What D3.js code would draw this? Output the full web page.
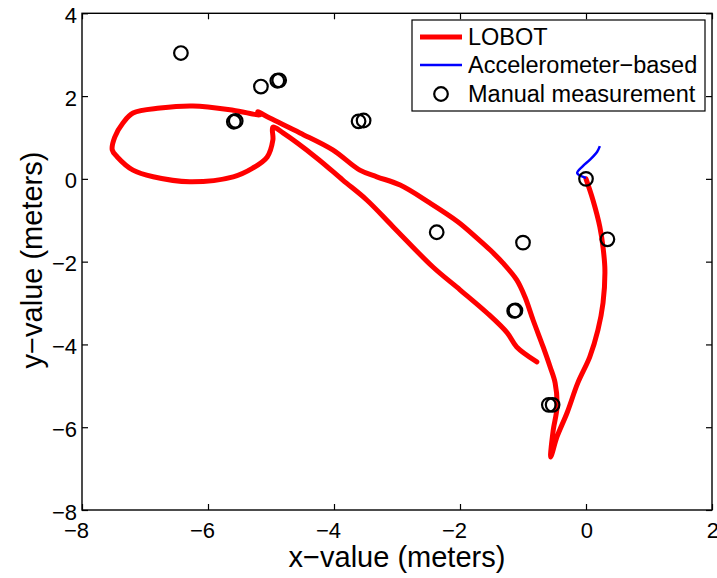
<!DOCTYPE html>
<meta charset="utf-8">
<script src="https://cdn.jsdelivr.net/npm/d3@7"></script>
<style>
    body { margin: 0; background: #fff; }
    text { font-family: "Liberation Sans", Arial, sans-serif; fill: #000; }
    .axis path { display: none; }
    .axis line { stroke: #000; stroke-width: 1.2; }
    .axis text { font-size: 22px; }
</style>
<body>
<script>

    // LOBOT path (meters), traced in drawing order
    var lobotX = [0.0, 0.11, 0.22, 0.27, 0.30, 0.27, 0.19, 0.06, -0.13, -0.30, -0.46, -0.56,
                  -0.52, -0.46, -0.49, -0.57, -0.68, -0.84, -0.97, -1.10, -1.32, -1.52, -1.73, -2.03, -2.48, -2.95,
                  -3.32, -3.59, -4.02, -4.54, -5.02, -5.21, -5.17,
                  -5.60, -6.24, -6.76, -7.19, -7.35, -7.48, -7.52, -7.44, -7.19, -6.87, -6.29, -5.60, -5.29, -5.06, -4.97, -4.97,
                  -4.81, -4.27, -3.86, -3.48, -3.06, -2.43, -2.0, -1.57, -1.25, -1.10, -0.78]
    var lobotY = [0.0, -0.51, -1.16, -1.65, -2.2, -3.0, -3.65, -4.30, -4.93, -5.65, -6.23, -6.72,
                  -6.07, -5.51, -4.93, -4.54, -4.06, -3.41, -2.85, -2.44, -2.03, -1.72, -1.43, -1.04, -0.58, -0.15,
                  0.05, 0.21, 0.70, 1.11, 1.47, 1.62, 1.55,
                  1.66, 1.76, 1.71, 1.59, 1.35, 1.01, 0.70, 0.53, 0.21, 0.05, -0.07, 0.05, 0.26, 0.53, 0.94, 1.25,
                  1.11, 0.50, -0.03, -0.51, -1.16, -2.13, -2.68, -3.24, -3.72, -4.06, -4.42]

    // accelerometer-based estimate
    var accelX = [0.0, -0.14, -0.05, 0.06, 0.175, 0.22]
    var accelY = [0.02, 0.14, 0.31, 0.46, 0.65, 0.79]

    // manual measurements
    var manualX = [-6.43, -5.16, -4.90, -4.87, -5.59, -5.56, -3.61, -3.53, -2.37, -1.0, 0.34, 0.0, -1.14, -1.12, -0.59, -0.53]
    var manualY = [3.04, 2.23, 2.37, 2.38, 1.38, 1.40, 1.39, 1.41, -1.29, -1.54, -1.46, 0.0, -3.19, -3.18, -5.46, -5.46]

    var xTicks = [-8, -6, -4, -2, 0, 2]
    var yTicks = [-8, -6, -4, -2, 0, 2, 4]
    var legendLabels = ["LOBOT", "Accelerometer\u2212based", "Manual measurement"]

    var W = 717, H = 578
    var pL = 82, pR = 712, pT = 13.3, pB = 510

    var x = d3.scaleLinear().domain([-8, 2]).range([pL, pR])
    var y = d3.scaleLinear().domain([-8, 4]).range([pB, pT])

    var svg = d3.select("body").append("svg").attr("width", W).attr("height", H)

    var fmt = d3.format("d")

    // axes with inward ticks on all four sides
    var gx = svg.append("g").attr("class", "axis").attr("transform", "translate(0," + pB + ")")
        .call(d3.axisBottom(x).tickValues(xTicks).tickSizeInner(-6).tickSizeOuter(0).tickFormat(fmt))
    gx.selectAll("text").attr("text-anchor", "end").attr("x", 6.5).attr("y", 28).attr("dy", null)

    svg.append("g").attr("class", "axis").attr("transform", "translate(0," + pT + ")")
        .call(d3.axisTop(x).tickValues(xTicks).tickSizeInner(-6).tickSizeOuter(0).tickFormat(""))

    var gy = svg.append("g").attr("class", "axis").attr("transform", "translate(" + pL + ",0)")
        .call(d3.axisLeft(y).tickValues(yTicks).tickSizeInner(-6).tickSizeOuter(0).tickFormat(fmt))
    gy.selectAll("text").attr("text-anchor", "end").attr("x", -5).attr("dy", null).attr("y", 9)

    svg.append("g").attr("class", "axis").attr("transform", "translate(" + pR + ",0)")
        .call(d3.axisRight(y).tickValues(yTicks).tickSizeInner(-6).tickSizeOuter(0).tickFormat(""))

    svg.append("rect").attr("x", pL).attr("y", pT).attr("width", pR - pL).attr("height", pB - pT)
        .style("fill", "none").style("stroke", "#000").style("stroke-width", 1.4)

    // series
    var line = d3.line().x((d) => x(d[0])).y((d) => y(d[1])).curve(d3.curveCatmullRom.alpha(0.5))

    var lobot = lobotX.map((v, i) => [v, lobotY[i]])
    var accel = accelX.map((v, i) => [v, accelY[i]])
    var manual = manualX.map((v, i) => [v, manualY[i]])

    svg.append("path").datum(lobot).attr("d", line)
        .style("fill", "none").style("stroke", "#ff0000").style("stroke-width", 5)
        .style("stroke-linejoin", "round").style("stroke-linecap", "round")

    svg.append("path").datum(accel).attr("d", line)
        .style("fill", "none").style("stroke", "#0000ff").style("stroke-width", 2.5)

    svg.selectAll(".manual").data(manual).enter().append("circle").attr("class", "manual")
        .attr("cx", (d) => x(d[0])).attr("cy", (d) => y(d[1])).attr("r", 6.8)
        .style("fill", "none").style("stroke", "#000").style("stroke-width", 2.2)

    // axis labels
    svg.append("text").attr("x", (pL + pR) / 2).attr("y", 567).attr("text-anchor", "middle")
        .style("font-size", "29px").text("x\u2212value (meters)")
    svg.append("text").attr("transform", "translate(42," + 260 + ") rotate(-90)").attr("text-anchor", "middle")
        .style("font-size", "29px").text("y\u2212value (meters)")

    // legend
    var lg = svg.append("g")
    lg.append("rect").attr("x", 412).attr("y", 20).attr("width", 293).attr("height", 91)
        .style("fill", "#fff").style("stroke", "#000").style("stroke-width", 1.2)
    var rows = [37, 65, 94]
    lg.append("line").attr("x1", 420).attr("x2", 462).attr("y1", rows[0]).attr("y2", rows[0])
        .style("stroke", "#ff0000").style("stroke-width", 5)
    lg.append("line").attr("x1", 420).attr("x2", 462).attr("y1", rows[1]).attr("y2", rows[1])
        .style("stroke", "#0000ff").style("stroke-width", 2.5)
    lg.append("circle").attr("cx", 441).attr("cy", rows[2]).attr("r", 6.8)
        .style("fill", "none").style("stroke", "#000").style("stroke-width", 2.2)
    legendLabels.forEach((label, i) => {
        lg.append("text").attr("x", 468).attr("y", rows[i] + 8).style("font-size", "23.5px").text(label)
    })

</script>
</body>
